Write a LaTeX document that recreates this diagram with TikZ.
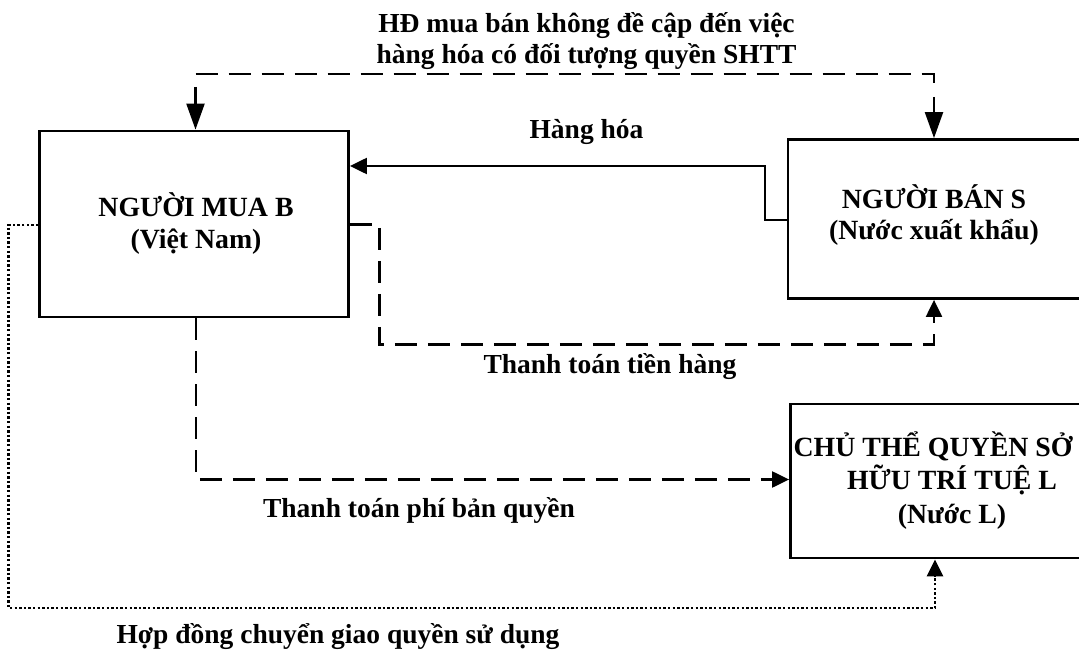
\documentclass[tikz,border=0pt]{standalone}
\usepackage{fontspec}
\setmainfont{Liberation Serif}
\usetikzlibrary{arrows.meta,calc}
\tikzset{
  box/.style={draw, line width=2.8pt, inner sep=0pt},
  lbl/.style={font=\bfseries\fontsize{27.5}{31}\selectfont, anchor=base, align=center, inner sep=0pt},
  boxlbl/.style={lbl, font=\bfseries\fontsize{27.8}{31.5}\selectfont},
  conn/.style={line width=2.2pt},
  dashline/.style={conn, dash pattern=on 22pt off 11pt},
  dotline/.style={line width=2.7pt, dash pattern=on 2.4pt off 2.2pt},
  tip/.style={-{Triangle[length=17pt,width=16pt]}},
  longtip/.style={-{Triangle[length=26pt,width=18pt]}},
}
\begin{document}
\begin{tikzpicture}[x=1pt,y=-1pt]
\useasboundingbox (0,0) rectangle (1079,655);
\fill[white] (0,0) rectangle (1079,655);
\clip (0,0) rectangle (1079,655);

% boxes
\node[box, minimum width=309pt, minimum height=186pt] (B) at (194,224) {};
\node[box, minimum width=322pt, minimum height=159pt] (S) at (949,219) {};
\node[box, minimum width=320pt, minimum height=154pt] (L) at (950.5,481) {};

% box texts (base = last line's baseline)
\node[boxlbl] (Bt) at (196,248) {NGƯỜI MUA B\\(Việt Nam)};
\node[boxlbl] (St) at (934,240) {NGƯỜI BÁN S\\(Nước xuất khẩu)};
\node[boxlbl, font=\bfseries\fontsize{27.8}{33.2}\selectfont] (Lt) at (952,523) {CHỦ THỂ QUYỀN SỞ\hspace*{38pt}\\HỮU TRÍ TUỆ L\\(Nước L)};

% connector labels
\node[lbl] (t0) at (586.5,64) {HĐ mua bán không đề cập đến việc\\hàng hóa có đối tượng quyền SHTT};
\node[lbl] (h0) at (586.5,139) {Hàng hóa};
\node[lbl] (p0) at (610,373) {Thanh toán tiền hàng};
\node[lbl] (r0) at (419,517) {Thanh toán phí bản quyền};
\node[lbl] (d0) at (338,643) {Hợp đồng chuyển giao quyền sử dụng};

% routing points
\coordinate (t1) at (195.5,74);
\coordinate (t2) at (934,74);
\coordinate (t3) at (934,85);
\coordinate (a1) at (195.5,87);
\coordinate (a2) at (934,97);
\coordinate (h1) at (765,220);
\coordinate (h2) at (765,166);
\coordinate (p1) at (379.5,224.5);
\coordinate (p2) at (379.5,344.5);
\coordinate (p3) at (934,344.5);
\coordinate (r1) at (196,479.5);
\coordinate (d1) at (8.6,225);
\coordinate (d2) at (8.6,608);
\coordinate (d3) at (935,608);

% connectors
\draw[dashline] (t1) -- (t2) -- (t3);
\draw[conn, longtip] (a1) -- (B.north -| a1);
\draw[conn, longtip] (a2) -- (S.north -| a2);
\draw[conn, tip] (S.west |- h1) -- (h1) -- (h2) -- (B.east |- h2);
\draw[dashline, tip] (B.east |- p1) -- (p1) -- (p2) -- (p3) -- (S.south -| p3);
\draw[dashline, tip] (B.south -| r1) -- (r1) -- (L.west |- r1);
\draw[dotline, tip] (B.west |- d1) -- (d1) -- (d2) -- (d3) -- (L.south -| d3);
\end{tikzpicture}
\end{document}
